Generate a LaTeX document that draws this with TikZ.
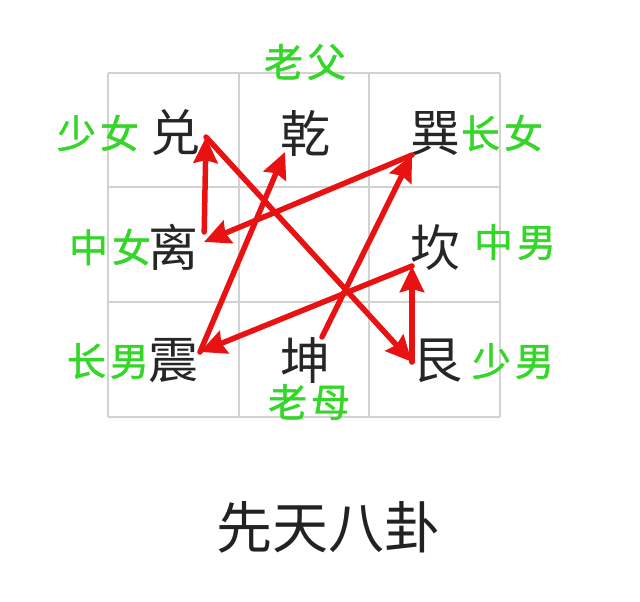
\documentclass[tikz,border=0pt]{standalone}
\usepackage{fontspec}
\setmainfont{Noto Sans CJK SC}
\newfontfamily\rolefont[FakeBold=1.2]{Noto Sans CJK SC}
\usetikzlibrary{arrows.meta}

\definecolor{gridgray}{RGB}{210,210,210}
\definecolor{arrowred}{RGB}{232,18,18}
\definecolor{rolegreen}{RGB}{52,214,40}
\definecolor{titlegray}{RGB}{34,34,34}

\tikzset{
  gua/.style={font=\fontsize{50}{50}\selectfont,text=black!85,inner sep=0pt},
  role/.style={font=\rolefont\fontsize{39}{39}\selectfont,text=rolegreen,inner sep=0pt},
  gridline/.style={draw=gridgray,line width=1.5pt},
  flow/.style={draw=arrowred,line width=5.5pt,line cap=round,
    -{Stealth[length=26pt,width=24pt,inset=3pt]}},
}
\newcommand{\rgap}{\hspace{4pt}}

\begin{document}
\begin{tikzpicture}[x=1pt,y=-1pt]

  \useasboundingbox (0,0) rectangle (640,602);

  \foreach \x in {108,239,369,500}
    \path [gridline] (\x,73) -- (\x,417);
  \foreach \y in {73,187,302,417}
    \path [gridline] (108,\y) -- (500,\y);

  \node [gua] (dui)  at (175,133) {兑};
  \node [gua] (qian) at (305,133) {乾};
  \node [gua] (xun)  at (435,133) {巽};
  \node [gua] (li)   at (173,247) {离};
  \node [gua] (kan)  at (435,247) {坎};
  \node [gua] (zhen) at (173,361) {震};
  \node [gua] (kun)  at (305,361) {坤};
  \node [gua] (gen)  at (437,361) {艮};

  \node [role] (laofu)   at (305,62)  {老\rgap 父};
  \node [role] (shaonv)  at (98,133)  {少\rgap 女};
  \node [role] (zhangnv) at (502,133) {长\rgap 女};
  \node [role] (zhongnv) at (110,247) {中\rgap 女};
  \node [role] (zhongnan) at (515,242) {中\rgap 男};
  \node [role] (zhangnan) at (108,361) {长\rgap 男};
  \node [role] (shaonan) at (513,361) {少\rgap 男};
  \node [role] (laomu)   at (309,402) {老\rgap 母};

  \node [font=\fontsize{56}{56}\selectfont,text=titlegray,inner sep=0pt]
    (title) at (328,527) {先天八卦};

  \coordinate (dui_p)  at (206,137);
  \coordinate (qian_p) at (285,152);
  \coordinate (xun_p)  at (412,155);
  \coordinate (li_p)   at (204,242);
  \coordinate (kan_p)  at (412,266);
  \coordinate (zhen_p) at (200,352);
  \coordinate (kun_p)  at (322,337);
  \coordinate (gen_p)  at (412,362);

  \path [flow] (kun_p) -- (xun_p);
  \path [flow] (xun_p) -- (li_p);
  \path [flow,shorten <=10pt] (li_p) -- (dui_p);
  \path [flow] (dui_p) -- (gen_p);
  \path [flow] (gen_p) -- (kan_p);
  \path [flow] (kan_p) -- (zhen_p);
  \path [flow] (zhen_p) -- (qian_p);
\end{tikzpicture}
\end{document}
